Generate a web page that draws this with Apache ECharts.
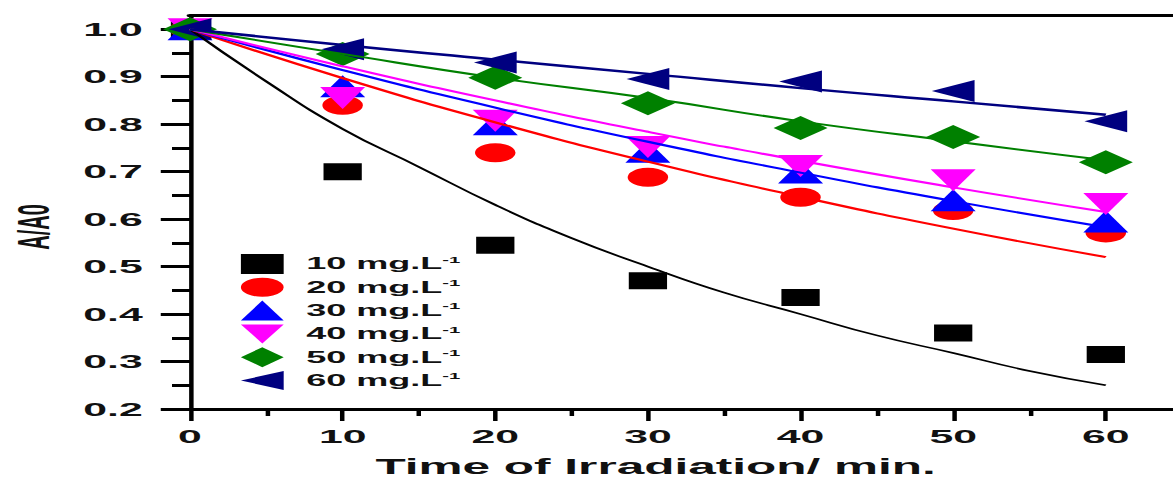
<!DOCTYPE html>
<html><head><meta charset="utf-8">
<script src="https://cdn.jsdelivr.net/npm/echarts@6/dist/echarts.min.js"></script>
<style>
html,body{margin:0;padding:0;background:#fff;overflow:hidden}
#wrap{width:1173px;height:480px;overflow:hidden}
#c{width:521px;height:480px;transform:scaleX(2.2514);transform-origin:0 0}
</style>
</head><body><div id="wrap"><div id="c"></div></div>
<script>
// ---- data ----
const times = [0, 10, 20, 30, 40, 50, 60];
const concNames = ['10 mg.L-1', '20 mg.L-1', '30 mg.L-1', '40 mg.L-1', '50 mg.L-1', '60 mg.L-1'];
const c10 = [1.0, 0.70, 0.545, 0.47, 0.435, 0.36, 0.315];
const c20 = [1.0, 0.84, 0.74, 0.688, 0.646, 0.618, 0.571];
const c30 = [1.0, 0.88, 0.80, 0.742, 0.698, 0.64, 0.595];
const c40 = [1.0, 0.855, 0.807, 0.752, 0.712, 0.682, 0.632];
const c50 = [1.0, 0.948, 0.898, 0.844, 0.792, 0.773, 0.72];
const c60 = [1.0, 0.958, 0.93, 0.895, 0.89, 0.87, 0.806];
// fitted curves
const fitTimesFine = [0, 5, 10, 15, 20, 25, 30, 35, 40, 45, 50, 55, 60];
const fit10 = [1.0, 0.89, 0.79, 0.71, 0.63, 0.56, 0.50, 0.445, 0.40, 0.355, 0.318, 0.28, 0.25];
const fitTimes = [0, 10, 20, 30, 40, 50, 60];
const fit20 = [1.0, 0.897, 0.804, 0.721, 0.647, 0.58, 0.52];
const fit30 = [1.0, 0.914, 0.835, 0.763, 0.698, 0.638, 0.583];
const fit40 = [1.0, 0.922, 0.85, 0.784, 0.723, 0.667, 0.615];
const fit50 = [1.0, 0.948, 0.898, 0.855, 0.806, 0.764, 0.724];
const fit60 = [1.0, 0.967, 0.936, 0.906, 0.876, 0.848, 0.82];
// ticks
const xTicks = [0, 10, 20, 30, 40, 50, 60];
const xMinorTicks = [5, 15, 25, 35, 45, 55];
const yTicks = [0.2, 0.3, 0.4, 0.5, 0.6, 0.7, 0.8, 0.9, 1.0];
const yMinorTicks = [0.25, 0.35, 0.45, 0.55, 0.65, 0.75, 0.85, 0.95];

const colors = ['#000000', '#ff0000', '#0000ff', '#ff00ff', '#008000', '#000080'];
const symbols = ['rect', 'circle', 'triangle', 'path://M0,0L10,0L5,10Z', 'diamond', 'path://M0,5L10,0L10,10Z'];
const sizes = [[17, 17], [18, 19], [20, 22], [20, 22], [24, 24], [19, 22]];
const pointSets = [c10, c20, c30, c40, c50, c60];
const fitSets = [[fitTimesFine, fit10], [fitTimes, fit20], [fitTimes, fit30], [fitTimes, fit40], [fitTimes, fit50], [fitTimes, fit60]];
const fitWidths = [1.5, 2, 2, 2, 2, 2.5];

const FONT = "'Liberation Sans', Arial, sans-serif";
const TXT = '#111';

const series = [];
pointSets.forEach((vals, i) => {
  series.push({
    type: 'scatter', name: concNames[i],
    data: times.map((t, k) => [t, vals[k]]),
    symbol: symbols[i], symbolSize: sizes[i],
    itemStyle: { color: colors[i], opacity: 1 },
    clip: false, z: 2
  });
});
fitSets.forEach((fs, i) => {
  series.push({
    type: 'line', name: 'fit' + i,
    data: fs[0].map((t, k) => [t, fs[1][k]]),
    showSymbol: false, smooth: true,
    lineStyle: { color: colors[i], width: fitWidths[i] },
    z: 3, silent: true
  });
});

const chart = echarts.init(document.getElementById('c'), null, { renderer: 'svg' });
chart.setOption({
  animation: false,
  backgroundColor: '#fff',
  grid: { left: 84.4, right: 0, top: 15, bottom: 71, containLabel: false, outerBoundsMode: 'none' },
  legend: {
    data: concNames, orient: 'vertical', left: 102, top: 249,
    itemWidth: 19, itemHeight: 20, itemGap: 3.8,
    formatter: n => '{a|' + n.replace(' mg.L-1', ' mg.L') + '}{s|-1}',
    textStyle: {
      padding: [0, 0, 0, 5],
      rich: {
        a: { fontFamily: FONT, fontWeight: 'bold', fontSize: 16, color: TXT, lineHeight: 18 },
        s: { fontFamily: FONT, fontWeight: 'bold', fontSize: 9, color: TXT, verticalAlign: 'top', lineHeight: 10 }
      }
    }
  },
  xAxis: [
    {
      type: 'value', min: 0, max: 64.4, position: 'bottom',
      name: 'Time of Irradiation/ min.', nameLocation: 'middle', nameGap: 46,
      nameTextStyle: { fontFamily: FONT, fontWeight: 'bold', fontSize: 22, color: TXT, padding: [0, 23, 0, 0] },
      axisLine: { show: true, onZero: false, lineStyle: { color: '#000', width: 3 } },
      axisTick: { show: true, customValues: xTicks, length: 12, lineStyle: { color: '#000', width: 2 } },
      axisLabel: { customValues: xTicks, margin: 18, fontFamily: FONT, fontWeight: 'bold', fontSize: 19, color: TXT },
      splitLine: { show: false }
    },
    {
      type: 'value', min: 0, max: 64.4, position: 'bottom',
      axisLine: { show: false, onZero: false },
      axisTick: { show: true, customValues: xMinorTicks, length: 7, lineStyle: { color: '#000', width: 2 } },
      axisLabel: { show: false },
      splitLine: { show: false }
    },
    {
      type: 'value', min: 0, max: 64.4, position: 'top',
      axisLine: { show: true, onZero: false, lineStyle: { color: '#000', width: 3 } },
      axisTick: { show: false }, axisLabel: { show: false }, splitLine: { show: false }
    }
  ],
  yAxis: [
    {
      type: 'value', min: 0.2, max: 1.03, position: 'left',
      name: 'A/A0', nameLocation: 'middle', nameGap: 60,
      nameTextStyle: { fontFamily: FONT, fontWeight: 'bold', fontSize: 20, color: TXT, padding: [0, 30, 0, 0] },
      axisLine: { show: true, onZero: false, lineStyle: { color: '#000', width: 2 } },
      axisTick: { show: true, customValues: yTicks, length: 13, lineStyle: { color: '#000', width: 3 } },
      axisLabel: { customValues: yTicks, margin: 21, fontFamily: FONT, fontWeight: 'bold', fontSize: 19, color: TXT,
        formatter: v => v.toFixed(1) },
      splitLine: { show: false }
    },
    {
      type: 'value', min: 0.2, max: 1.03, position: 'left',
      axisLine: { show: false, onZero: false },
      axisTick: { show: true, customValues: yMinorTicks, length: 8, lineStyle: { color: '#000', width: 3 } },
      axisLabel: { show: false },
      splitLine: { show: false }
    }
  ],
  series: series
});
</script>
</body></html>
